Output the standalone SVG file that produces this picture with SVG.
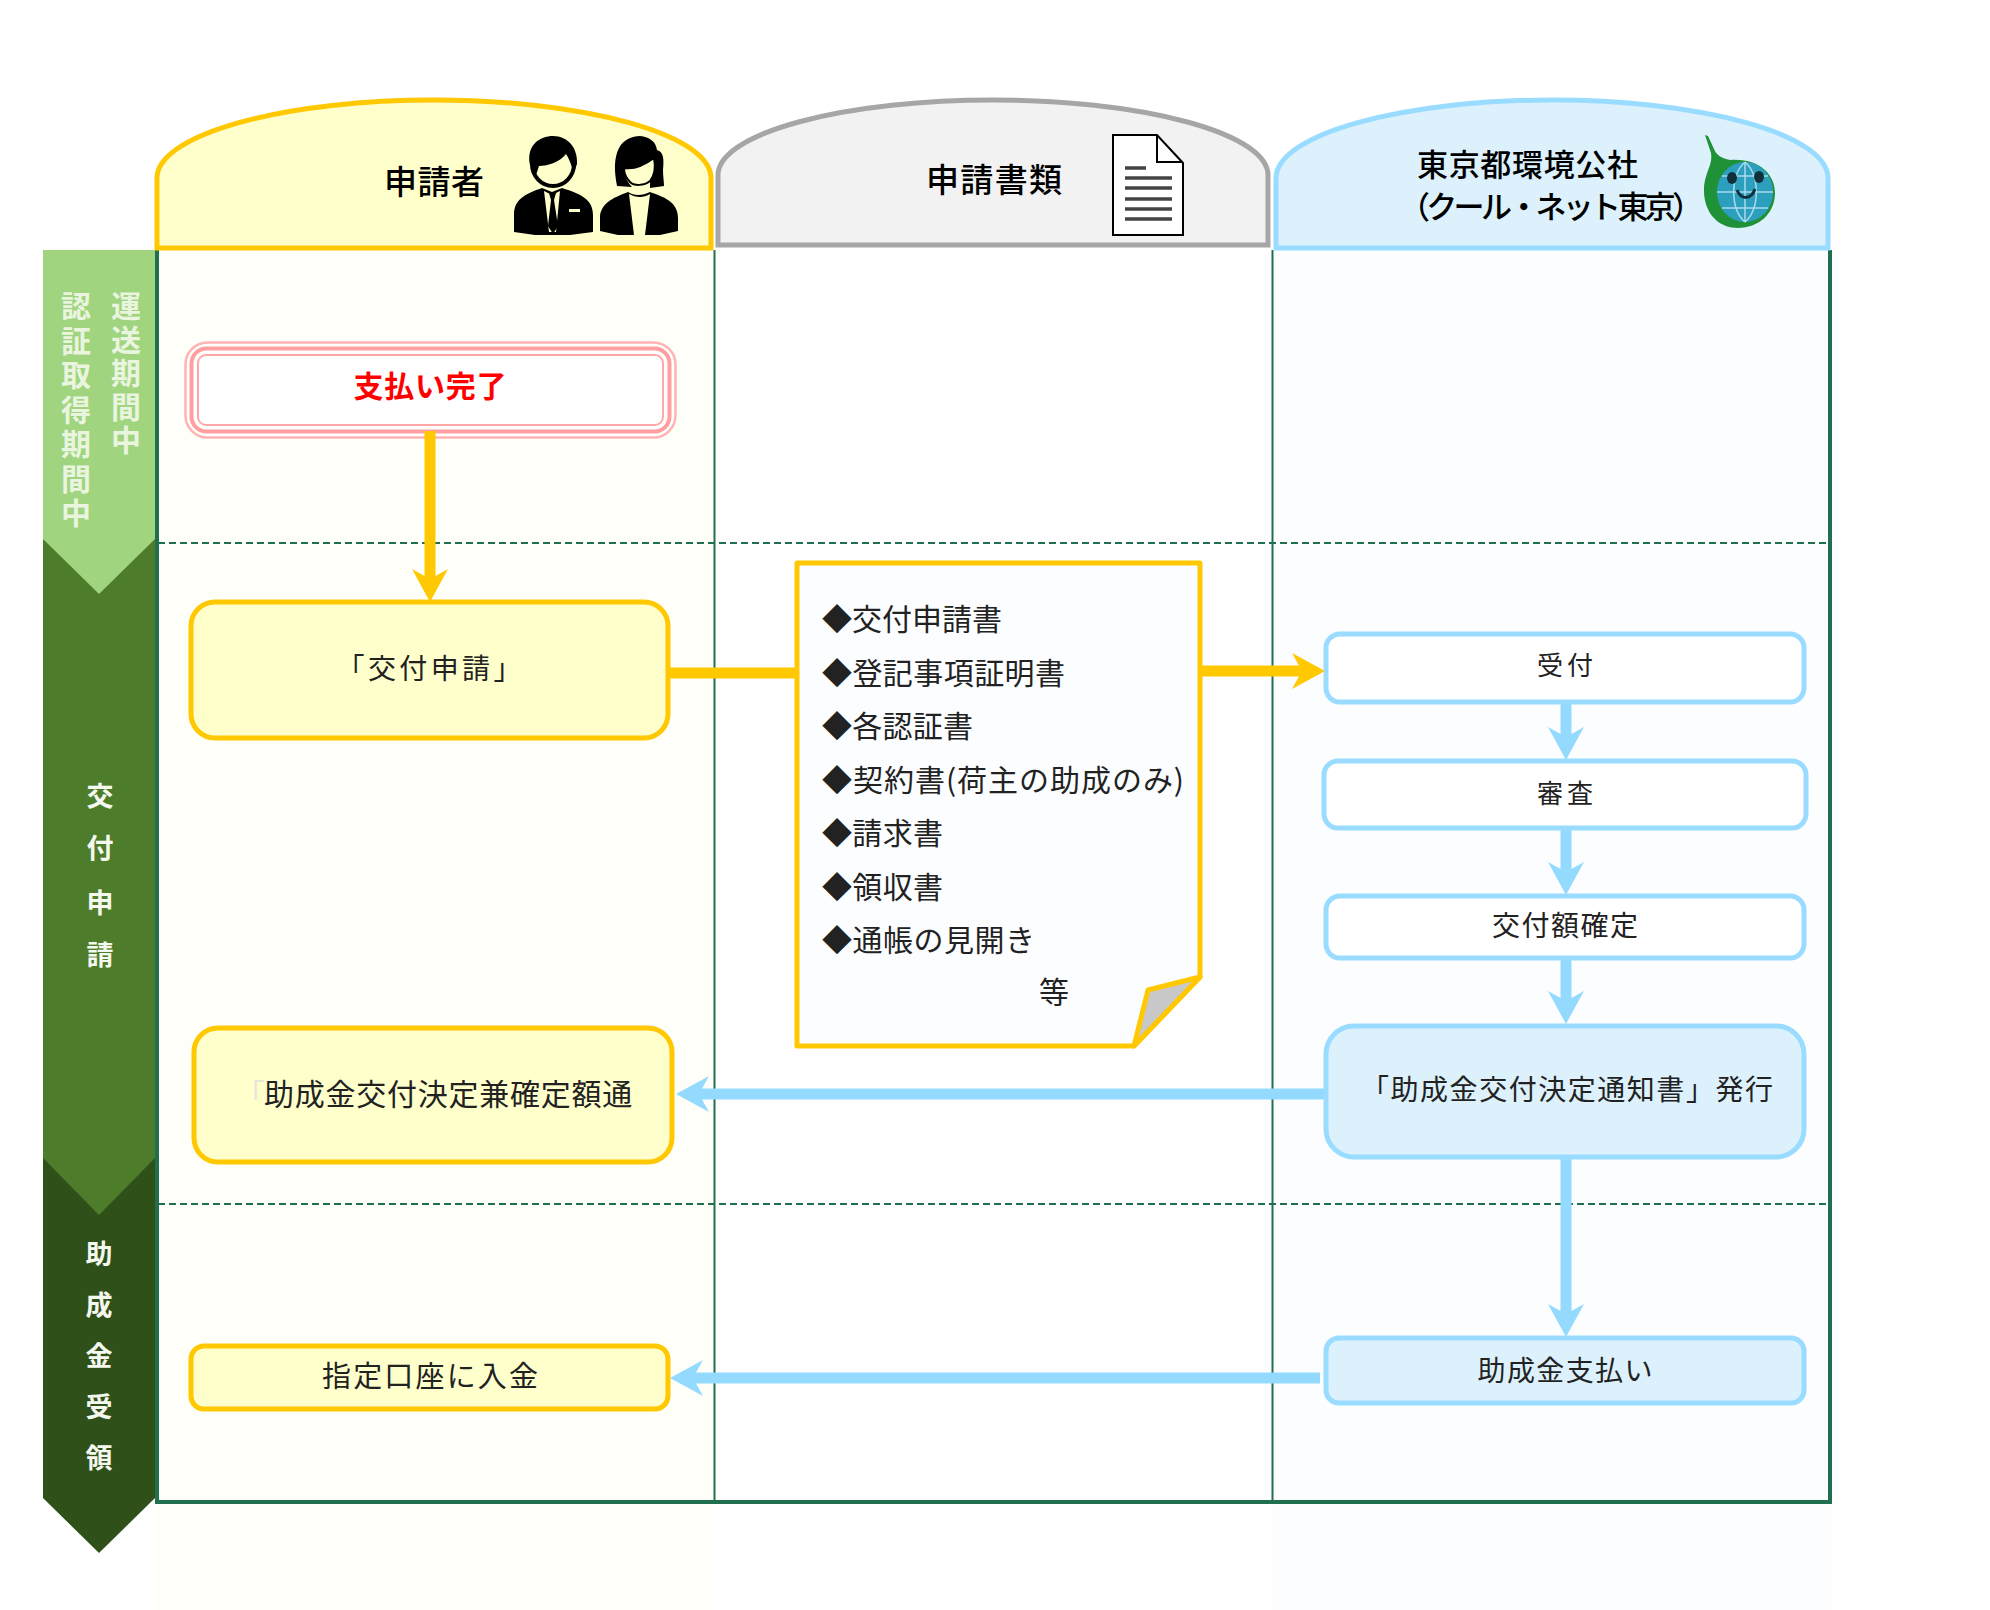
<svg xmlns="http://www.w3.org/2000/svg" width="1990" height="1610" viewBox="0 0 1990 1610">
<style>
text{font-family:"Noto Sans CJK JP","Noto Sans CJK SC",sans-serif;fill:#222}
.c{text-anchor:middle}
.h{font-weight:500;fill:#000;font-size:33px}
.side{font-weight:700;text-anchor:middle;font-size:27px;fill:#f4f8ee}
.vert{font-weight:700;font-size:30px;fill:#e9f5df;writing-mode:vertical-rl}
.t{font-size:29px}
.y{fill:#ffffcc;stroke:#ffc800;stroke-width:5}
.w{fill:#fff;stroke:#99dcff;stroke-width:5}
.b{fill:#dcf1fc;stroke:#99dcff;stroke-width:5}
.lane{stroke:#207050;fill:none}
.cy{stroke:#ffc800;stroke-width:11;fill:none}
.cb{stroke:#94daff;stroke-width:11;fill:none}
.cy.a{marker-end:url(#ay)}
.cb.a{marker-end:url(#ab)}
.ic{fill:#000}
</style>
<defs>
<marker id="ay" markerUnits="userSpaceOnUse" viewBox="0 0 34 40" refX="17" refY="20" markerWidth="34" markerHeight="40" orient="auto"><path d="M0 2L33 20L0 38L10 20Z" fill="#ffc800"/></marker>
<marker id="ab" markerUnits="userSpaceOnUse" viewBox="0 0 34 40" refX="17" refY="20" markerWidth="34" markerHeight="40" orient="auto"><path d="M0 2L33 20L0 38L10 20Z" fill="#94daff"/></marker>
</defs>
<rect width="1990" height="1610" fill="#fff"/>
<g id="lanes">
<rect x="156" y="250" width="558" height="1360" fill="#fffffa"/>
<rect x="714" y="250" width="558" height="1360" fill="#fefefe"/>
<rect x="1272" y="250" width="559" height="1360" fill="#fbfdff"/>
<path class="lane" stroke-width="2" stroke-dasharray="7 4" d="M158 543H1830M158 1204H1830"/>
<path class="lane" stroke-width="2" d="M714.500 250V1501M1272.500 250V1501"/>
<path class="lane" stroke-width="4" d="M157 250V1502H1830V250"/>
</g>
<g id="phase-payment">
<path d="M43 1150H155V1498L99 1553L43 1498Z" fill="#30501a"/>
<text class="side"><tspan x="99" y="1264">助</tspan><tspan x="99" y="1315">成</tspan><tspan x="99" y="1366">金</tspan><tspan x="99" y="1417">受</tspan><tspan x="99" y="1468">領</tspan></text>
</g>
<g id="phase-apply">
<path d="M43 530H155V1158L99 1215L43 1158Z" fill="#4d7c2a"/>
<text class="side"><tspan x="100" y="806">交</tspan><tspan x="100" y="858">付</tspan><tspan x="100" y="913">申</tspan><tspan x="100" y="965">請</tspan></text>
</g>
<g id="phase-transport">
<path d="M43 250H155V539L99 594L43 539Z" fill="#a0d47e"/>
<text class="vert" x="126" y="291" style="letter-spacing:3.500px">運送期間中</text>
<text class="vert" x="76" y="291" style="letter-spacing:4.500px">認証取得期間中</text>
</g>
<g id="header-applicant">
<path d="M157 248V178A277 78 0 0 1 711 178V248Z" fill="#ffffcc" stroke="#ffc800" stroke-width="5"/>
<text class="h c" x="434" y="194" textLength="100">申請者</text>
<ellipse cx="553" cy="164" rx="21" ry="22" fill="#ffffcc" stroke="#000" stroke-width="4"/>
<path class="ic" d="M530 165C526 145 540 136 553 136C568 136 578 148 577 164L574 172C572 168 570 160 566 154C560 162 548 166 539 166L536 175Z"/>
<path class="ic" d="M514 215C514 200 524 194 542 188L552 192L562 188C582 194 593 200 593 215V232L570 235H535L514 232Z"/>
<path d="M544 191L552 195L560 191L556 232H549Z" fill="#ffffcc"/>
<path class="ic" d="M549 193H556L554 200L558 226L553 234L548 226L551 200Z"/>
<rect x="569" y="209" width="11" height="3" fill="#ffffcc"/>
<path class="ic" d="M617 186C614 170 614 158 619 148C623 140 632 136 640 136C650 137 656 142 657 150C664 152 664 160 663 170C663 176 664 182 664 186L650 188V180C655 172 656 166 654 158C646 164 636 170 624 168C624 176 628 183 632 187Z"/>
<path d="M624 168C636 170 646 164 654 158C656 168 654 176 650 181C644 186 634 186 630 182C626 178 624 174 624 168Z" fill="#ffffcc" stroke="#000" stroke-width="2"/>
<path class="ic" d="M600 218C600 204 612 198 628 192C634 196 642 196 650 192C668 198 678 204 678 218V231L660 235H618L600 231Z"/>
<path d="M629 194C636 198 644 198 650 194L645 235H634Z" fill="#ffffcc"/>
</g>
<g id="header-documents">
<path d="M718 245V175A275 75 0 0 1 1268 175V245Z" fill="#f2f2f2" stroke="#a6a6a6" stroke-width="5"/>
<text class="h c" x="994" y="192" textLength="136">申請書類</text>
<path d="M1113 135H1157L1183 163V235H1113Z" fill="#fff" stroke="#000" stroke-width="2"/>
<path d="M1157 135V162H1183" fill="none" stroke="#000" stroke-width="2"/>
<path d="M1125 168H1146M1125 178H1172M1125 188H1172M1125 199H1172M1125 209H1172M1125 219H1172" stroke="#444" stroke-width="3.500" fill="none"/>
</g>
<g id="header-clean-net">
<path d="M1276 248V178A276 78 0 0 1 1828 178V248Z" fill="#dcf1fc" stroke="#99dcff" stroke-width="5"/>
<text class="h" x="1417" y="176" textLength="221" style="font-size:31px">東京都環境公社</text>
<text class="h" x="1399" y="218" textLength="304" style="font-size:31px">（クール・ネット東京）</text>
<path d="M1705 135L1708 136L1714 149C1717 156 1722 158 1730 160C1760 158 1775 175 1775 193C1775 214 1758 228 1738 228C1716 228 1703 210 1704 188C1705 172 1713 165 1711 153Z" fill="#1f9238"/>
<ellipse cx="1745" cy="192" rx="28" ry="30" fill="#2d9fbe"/>
<path d="M1717 192H1773M1745 162V222M1722 176H1768M1722 208H1768M1745 162C1730 175 1730 209 1745 222M1745 162C1760 175 1760 209 1745 222" stroke="#a8dcea" stroke-width="1.500" fill="none"/>
<ellipse cx="1732" cy="178" rx="5" ry="6" fill="#10303a"/><ellipse cx="1759" cy="177" rx="5" ry="6" fill="#10303a"/>
<path d="M1737 190C1741 200 1751 200 1755 189" stroke="#10303a" stroke-width="3" fill="none"/>
</g>
<g id="node-payment-complete">
<rect x="185.500" y="342.500" width="490" height="95" rx="22" fill="#fff" stroke="#ffb3b3" stroke-width="2.500"/>
<rect x="191.500" y="348.500" width="478" height="83" rx="15" fill="#fff" stroke="#ff9f9f" stroke-width="4"/>
<rect x="198" y="355" width="465" height="70" rx="8" fill="#fff" stroke="#ffa8a8" stroke-width="2"/>
<text class="c" x="430" y="397" textLength="153" style="font-size:30px;fill:#ff0000;font-weight:700">支払い完了</text>
</g>
<g id="node-apply">
<rect class="y" x="191" y="602" width="477" height="136" rx="24"/>
<text class="c t" x="429" y="679" textLength="185" style="font-size:28px">「交付申請」</text>
</g>
<g id="node-decision-notice">
<rect class="y" x="194" y="1028" width="478" height="134" rx="24"/>
<text class="t" y="1105" style="font-size:30px;letter-spacing:0.750px"><tspan x="235" fill="#e6e6d8">「</tspan><tspan x="264">助成金交付決定兼確定額通</tspan></text>
</g>
<g id="node-deposit">
<rect class="y" x="191" y="1346" width="477" height="63" rx="13"/>
<text class="c t" x="430" y="1387" textLength="216">指定口座に入金</text>
</g>
<g id="connectors">
<path class="cy a" d="M430 431V586"/>
<path class="cy" d="M669 673H797"/>
<path class="cy a" d="M1202 671H1309"/>
<path class="cb a" d="M1566 703V744"/>
<path class="cb a" d="M1566 829V879"/>
<path class="cb a" d="M1566 959V1008"/>
<path class="cb a" d="M1566 1157V1321"/>
<path class="cb a" d="M1326 1094H692"/>
<path class="cb a" d="M1320 1378H686"/>
</g>
<g id="node-documents">
<path d="M797 563H1200V977L1134 1046H797Z" fill="#fcfdff" stroke="#ffc800" stroke-width="5" stroke-linejoin="round"/>
<path d="M1200 977L1148 990L1134 1046Z" fill="#c8c8c8" stroke="#ffc800" stroke-width="5" stroke-linejoin="round"/>
<text class="t" x="822" y="630" textLength="180" style="font-size:30px">◆交付申請書</text>
<text class="t" x="822" y="684" textLength="243" style="font-size:30px">◆登記事項証明書</text>
<text class="t" x="822" y="737" textLength="151" style="font-size:30px">◆各認証書</text>
<text class="t" x="822" y="791" textLength="362" style="font-size:30px">◆契約書(荷主の助成のみ)</text>
<text class="t" x="822" y="844" textLength="121" style="font-size:30px">◆請求書</text>
<text class="t" x="822" y="898" textLength="121" style="font-size:30px">◆領収書</text>
<text class="t" x="822" y="951" textLength="213" style="font-size:30px">◆通帳の見開き</text>
<text class="t c" x="1054" y="1003" style="font-size:30px">等</text>
</g>
<g id="node-receipt">
<rect class="w" x="1326" y="634" width="478" height="68" rx="14"/>
<text class="c t" x="1565" y="675" textLength="56" style="font-size:26px">受付</text>
</g>
<g id="node-review">
<rect class="w" x="1324" y="761" width="482" height="67" rx="14"/>
<text class="c t" x="1565" y="803" textLength="56" style="font-size:26px">審査</text>
</g>
<g id="node-amount">
<rect class="w" x="1326" y="896" width="478" height="62" rx="14"/>
<text class="c t" x="1565" y="936" textLength="146" style="font-size:28px">交付額確定</text>
</g>
<g id="node-notice-issue">
<rect class="b" x="1326" y="1026" width="478" height="131" rx="28"/>
<text class="c t" x="1567" y="1100" textLength="412" style="font-size:28px">「助成金交付決定通知書」発行</text>
</g>
<g id="node-grant-payment">
<rect class="b" x="1326" y="1338" width="478" height="65" rx="13"/>
<text class="c t" x="1565" y="1381" textLength="175" style="font-size:28px">助成金支払い</text>
</g>
</svg>
